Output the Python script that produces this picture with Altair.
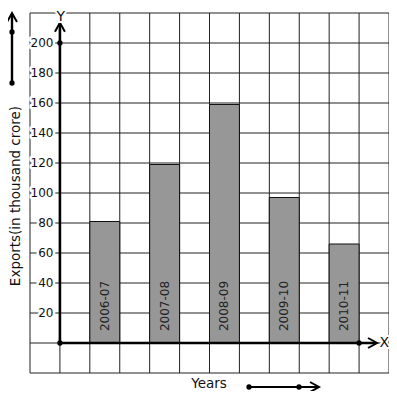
import altair as alt
import pandas as pd

# ---- data ----
years = ["2006-07", "2007-08", "2008-09", "2009-10", "2010-11"]
exports = [81, 119, 159, 97, 66]
y_ticks = [20, 40, 60, 80, 100, 120, 140, 160, 180, 200]
x_grid = list(range(-1, 12))
y_grid = list(range(-20, 221, 20))

FONT = "DejaVu Sans"
W, H = 359, 360

bars = pd.DataFrame({"year": years, "exports": exports})
bars["x0"] = [1 + 2 * i for i in range(len(years))]
bars["x1"] = bars["x0"] + 1
bars["xm"] = bars["x0"] + 0.5

xs = alt.Scale(domain=[-1, 11], nice=False, zero=False)
ys = alt.Scale(domain=[-20, 220], nice=False, zero=False)


def X(f):
    return alt.X(f, scale=xs, axis=None)


def Y(f):
    return alt.Y(f, scale=ys, axis=None)


# grid
vgrid = alt.Chart(pd.DataFrame({"g": x_grid})).mark_rule(color="#222", strokeWidth=1).encode(
    x=X("g:Q"), y=alt.value(0), y2=alt.value(H))
hgrid = alt.Chart(pd.DataFrame({"g": y_grid})).mark_rule(color="#222", strokeWidth=1).encode(
    y=Y("g:Q"), x=alt.value(0), x2=alt.value(W))

bar_layer = alt.Chart(bars).mark_rect(fill="#979797", stroke="#111", strokeWidth=1).encode(
    x=X("x0:Q"), x2="x1:Q", y=Y("exports:Q"), y2=alt.datum(0))

bar_text = alt.Chart(bars).mark_text(angle=270, align="center", baseline="middle",
                                     fontSize=12, font=FONT, color="#222").encode(
    x=X("xm:Q"), y=alt.value(293), text="year:N")

ticks_df = pd.DataFrame({"v": y_ticks})
tick_halo = alt.Chart(ticks_df).mark_text(align="right", baseline="middle", fontSize=12, font=FONT,
                                          fill="white", stroke="white", strokeWidth=5,
                                          strokeJoin="round").encode(
    x=alt.value(23.5), y=Y("v:Q"), text="v:Q")
tick_text = alt.Chart(ticks_df).mark_text(align="right", baseline="middle", fontSize=12, font=FONT,
                                          color="#111").encode(
    x=alt.value(23.5), y=Y("v:Q"), text="v:Q")

# thick axes
axes_df = pd.DataFrame({"x": [0, 0], "y": [0, 0], "x2": [0, 10.55], "y2": [213, 0]})
axes_rules = alt.Chart(axes_df).mark_rule(color="black", strokeWidth=2.6).encode(
    x=X("x:Q"), x2="x2:Q", y=Y("y:Q"), y2="y2:Q")

dots_df = pd.DataFrame({"x": [0, 0, 10], "y": [0, 200, 0]})
axes_dots = alt.Chart(dots_df).mark_circle(color="black", size=28, opacity=1).encode(
    x=X("x:Q"), y=Y("y:Q"))

UP = "M-1,1.8L0,0L1,1.8"
RIGHT = "M-1.8,-1L0,0L-1.8,1"

up_head = alt.Chart(pd.DataFrame({"x": [0], "y": [213.5]})).mark_point(
    shape=UP, size=100, filled=False, color="black", strokeWidth=2, opacity=1).encode(
    x=X("x:Q"), y=Y("y:Q"))
right_head = alt.Chart(pd.DataFrame({"x": [10.6], "y": [0]})).mark_point(
    shape=RIGHT, size=100, filled=False, color="black", strokeWidth=2, opacity=1).encode(
    x=X("x:Q"), y=Y("y:Q"))

lab_df = pd.DataFrame({"t": ["X"], "x": [10.84], "y": [0]})
x_halo = alt.Chart(lab_df).mark_text(fontSize=14, font=FONT, align="center", baseline="middle",
                                     fill="white", stroke="white", strokeWidth=4).encode(
    x=X("x:Q"), y=Y("y:Q"), text="t:N")
x_lab = alt.Chart(lab_df).mark_text(fontSize=14, font=FONT, align="center", baseline="middle",
                                    color="#111").encode(
    x=X("x:Q"), y=Y("y:Q"), text="t:N")

ylab_df = pd.DataFrame({"t": ["Y"], "x": [0.03]})
y_halo = alt.Chart(ylab_df).mark_text(fontSize=14, font=FONT, align="center", baseline="middle",
                                      fill="white", stroke="white", strokeWidth=4).encode(
    x=X("x:Q"), y=alt.value(3.5), text="t:N")
y_lab = alt.Chart(ylab_df).mark_text(fontSize=14, font=FONT, align="center", baseline="middle",
                                     color="#111").encode(
    x=X("x:Q"), y=alt.value(3.5), text="t:N")

# titles
x_title = alt.Chart(pd.DataFrame({"t": ["Years"]})).mark_text(
    fontSize=13.5, font=FONT, align="center", baseline="alphabetic", color="#111").encode(
    x=alt.value(179), y=alt.value(374.5), text="t:N")
y_title = alt.Chart(pd.DataFrame({"t": ["Exports(in thousand crore)"]})).mark_text(
    fontSize=13.5, font=FONT, align="center", baseline="middle", angle=270, color="#111").encode(
    x=alt.value(-14.5), y=alt.value(183), text="t:N")

# decorative scale arrows
left_rule = alt.Chart(pd.DataFrame({"a": [1]})).mark_rule(color="black", strokeWidth=2.4).encode(
    x=alt.value(-18), y=alt.value(70), y2=alt.value(1))
left_dots = alt.Chart(pd.DataFrame({"p": [70, 19]})).mark_circle(color="black", size=28, opacity=1).encode(
    x=alt.value(-18), y=alt.Y("p:Q", scale=None, axis=None))
left_head = alt.Chart(pd.DataFrame({"a": [1]})).mark_point(
    shape=UP, size=100, filled=False, color="black", strokeWidth=2, opacity=1).encode(
    x=alt.value(-18), y=alt.value(0))

bot_rule = alt.Chart(pd.DataFrame({"a": [1]})).mark_rule(color="black", strokeWidth=2).encode(
    x=alt.value(219), x2=alt.value(288), y=alt.value(374))
bot_dots = alt.Chart(pd.DataFrame({"p": [219, 269]})).mark_circle(color="black", size=28, opacity=1).encode(
    x=alt.X("p:Q", scale=None, axis=None), y=alt.value(374))
bot_head = alt.Chart(pd.DataFrame({"a": [1]})).mark_point(
    shape=RIGHT, size=100, filled=False, color="black", strokeWidth=2, opacity=1).encode(
    x=alt.value(289), y=alt.value(374))

chart = alt.layer(
    vgrid, hgrid, bar_layer, bar_text, tick_halo, tick_text, axes_rules, axes_dots, up_head, right_head,
    x_halo, x_lab, y_halo, y_lab, x_title, y_title,
    left_rule, left_dots, left_head, bot_rule, bot_dots, bot_head,
).properties(
    width=W, height=H,
    autosize=alt.AutoSizeParams(type="none"),
    padding={"left": 22, "top": 5, "right": 0, "bottom": 18},
    background="white",
).configure_view(stroke=None)

chart.save("out.html", embed_options={"renderer": "svg", "actions": False})
